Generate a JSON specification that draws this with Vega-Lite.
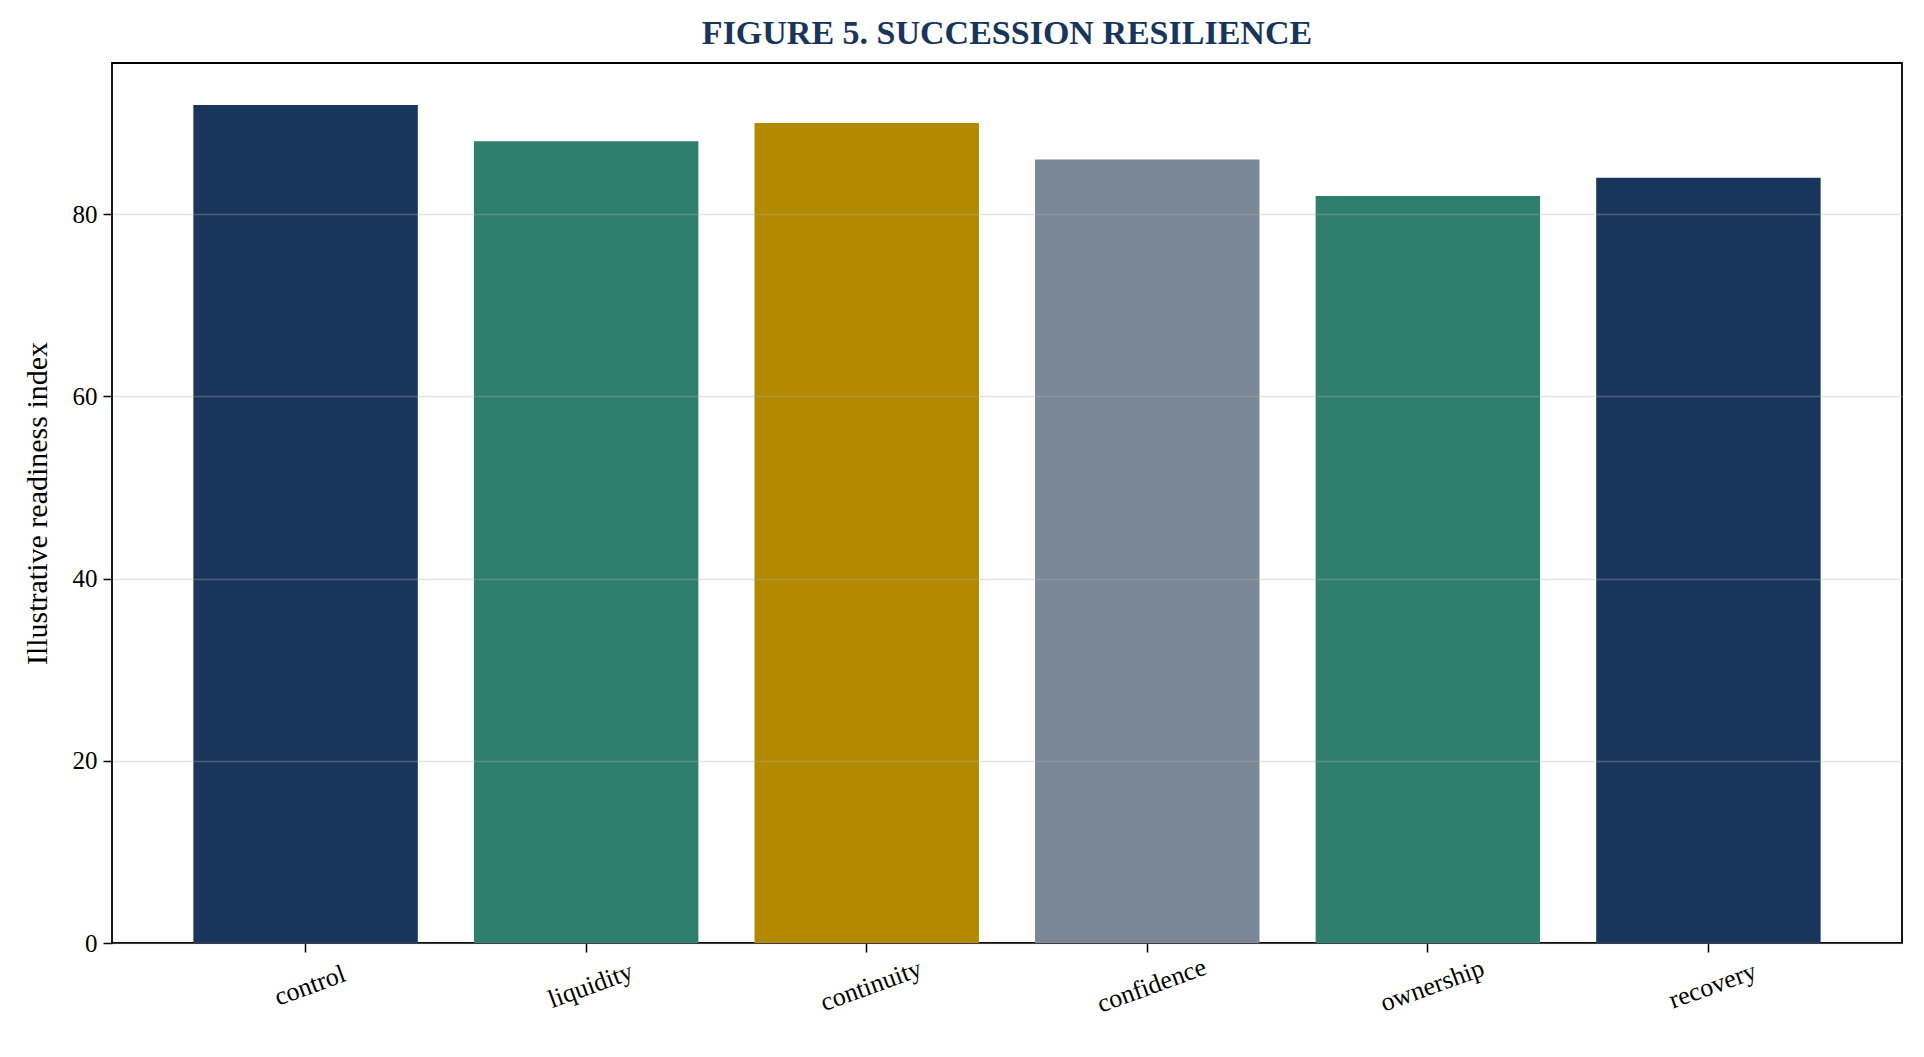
{
  "$schema": "https://vega.github.io/schema/vega-lite/v6.json",
  "description": "Succession resilience bar chart",
  "autosize": {"type": "none"},
  "padding": {"left": 112, "top": 63, "right": 22, "bottom": 114},
  "width": 1790,
  "height": 880,
  "title": {
    "text": "FIGURE 5. SUCCESSION RESILIENCE",
    "font": "Liberation Serif",
    "fontSize": 34,
    "fontWeight": "bold",
    "color": "#18365c",
    "anchor": "middle",
    "offset": 12
  },
  "data": {
    "values": [
      {"category": "control", "value": 92, "colour": "#18365c"},
      {"category": "liquidity", "value": 88, "colour": "#2e7f6e"},
      {"category": "continuity", "value": 90, "colour": "#b38900"},
      {"category": "confidence", "value": 86, "colour": "#7a8796"},
      {"category": "ownership", "value": 82, "colour": "#2e7f6e"},
      {"category": "recovery", "value": 84, "colour": "#18365c"}
    ]
  },
  "mark": {"type": "bar"},
  "encoding": {
    "x": {
      "field": "category",
      "type": "nominal",
      "sort": null,
      "title": null,
      "scale": {"paddingInner": 0.2, "paddingOuter": 0.29},
      "axis": {
        "labelAngle": -20,
        "labelAlign": "center",
        "labelBaseline": "top",
        "labelPadding": 21,
        "tickSize": 9,
        "tickColor": "#000000",
        "tickWidth": 1.5,
        "domain": false,
        "labelFont": "Liberation Serif",
        "labelFontSize": 26,
        "labelColor": "#000000"
      }
    },
    "y": {
      "field": "value",
      "type": "quantitative",
      "title": "Illustrative readiness index",
      "scale": {"domain": [0, 96.6], "nice": false},
      "axis": {
        "values": [0, 20, 40, 60, 80],
        "tickSize": 9,
        "tickColor": "#000000",
        "tickWidth": 1.5,
        "domain": false,
        "grid": true,
        "gridColor": "#b0b0b0",
        "gridOpacity": 0.35,
        "gridWidth": 1.5,
        "zindex": 1,
        "labelFont": "Liberation Serif",
        "labelFontSize": 25,
        "labelColor": "#000000",
        "labelPadding": 6,
        "titleFont": "Liberation Serif",
        "titleFontSize": 30,
        "titleFontWeight": "normal",
        "titleColor": "#000000",
        "titlePadding": 20
      }
    },
    "color": {"field": "colour", "type": "nominal", "scale": null, "legend": null}
  },
  "config": {
    "view": {"stroke": "#000000", "strokeWidth": 1.8}
  }
}
